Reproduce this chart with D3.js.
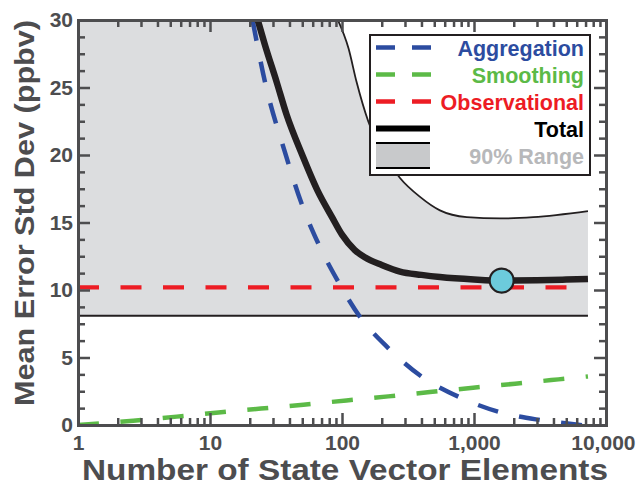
<!DOCTYPE html>
<html>
<head>
<meta charset="utf-8">
<script src="https://cdn.jsdelivr.net/npm/d3@7.9.0/dist/d3.min.js"></script>
<style>
  body { margin: 0; background: #fff; }
  text { font-family: "Liberation Sans", Arial, Helvetica, sans-serif; font-weight: bold; }
</style>
</head>
<body>
<div id="chart"></div>
<script>
// data (x = number of state vector elements, y = ppbv)
const totalN = [23, 26, 32, 38, 50, 65, 84, 100, 125, 150, 200, 275, 400, 552, 1000, 1620, 3000, 5000, 7300];
const totalV = [30, 28.2, 25.4, 23.0, 20.0, 17.4, 15.4, 14.1, 12.96, 12.4, 11.85, 11.36, 11.12, 10.96, 10.78, 10.7, 10.72, 10.77, 10.82];

const aggN = [21, 26.1, 37, 49.4, 66, 93.8, 137, 224, 402, 761, 1520, 3162, 6354, 7000];
const aggV = [30, 25.4, 20.2, 16.4, 13.46, 10.6, 8.0, 5.7, 3.58, 2.1, 0.99, 0.37, 0.0, -0.05];

const smoothN = [1, 2.62, 5.6, 11.6, 51, 108, 224, 464, 984, 2048, 4362, 7300];
const smoothV = [0, 0.32, 0.62, 0.93, 1.5, 1.82, 2.12, 2.44, 2.76, 3.06, 3.38, 3.6];

const obsN = [1, 7300];
const obsV = [10.2, 10.2];

const upperN = [93, 112, 129, 158, 200, 275, 390, 552, 881, 1580, 2814, 7300];
const upperV = [30, 27.9, 25.4, 22.5, 20.3, 18.3, 16.9, 15.9, 15.4, 15.3, 15.4, 15.85];
const lowerN = [1, 7300];
const lowerV = [8.1, 8.1];

const optimum = { n: 1620, v: 10.7 };

const xTicks = [1, 10, 100, 1000, 10000];
const yTicks = [0, 5, 10, 15, 20, 25, 30];

const legendLabels = ['Aggregation', 'Smoothing', 'Observational', 'Total', '90% Range'];

const zip = (ns, vs) => ns.map((n, i) => ({ n, v: vs[i] }));

const width = 638, height = 485;
const plot = { left: 78, right: 606, top: 20, bottom: 425 };
const axisColor = '#4d4d4f';
const colors = {
  agg: '#2c4ca0', smooth: '#5cba47', obs: '#ed1c24', total: '#231f20',
  band: '#dcdddf', patch: '#c8c9cb', rangeText: '#b7b8ba', marker: '#6ccbdc'
};

const svg = d3.select('#chart').append('svg')
  .attr('width', width).attr('height', height);

const x = d3.scaleLog().domain([1, 10000]).range([plot.left, plot.right]);
const y = d3.scaleLinear().domain([0, 30]).range([plot.bottom, plot.top]);

svg.append('clipPath').attr('id', 'clip')
  .append('rect')
  .attr('x', plot.left).attr('y', plot.top)
  .attr('width', plot.right - plot.left).attr('height', plot.bottom - plot.top);

const g = svg.append('g').attr('clip-path', 'url(#clip)');

const line = d3.line().x(d => x(d.n)).y(d => y(d.v)).curve(d3.curveMonotoneX);

// 90% range band (above the top of the chart it is clipped at 30)
const upper = zip(upperN, upperV);
const bandTop = [{ n: lowerN[0], v: y.domain()[1] }, ...upper];
const bandLow = lowerV[0];
const area = d3.area()
  .x(d => x(d.n))
  .y0(y(bandLow))
  .y1(d => y(d.v))
  .curve(d3.curveMonotoneX);
g.append('path').datum(bandTop).attr('d', area).attr('fill', colors.band);

g.append('path').datum(upper).attr('d', line)
  .attr('fill', 'none').attr('stroke', colors.total).attr('stroke-width', 1.8);
g.append('path').datum(zip(lowerN, lowerV)).attr('d', line)
  .attr('fill', 'none').attr('stroke', colors.total).attr('stroke-width', 2);

// component error curves
const dash = '21 21.5';
g.append('path').datum(zip(obsN, obsV)).attr('d', line)
  .attr('fill', 'none').attr('stroke', colors.obs).attr('stroke-width', 4.3)
  .attr('stroke-dasharray', dash);
g.append('path').datum(zip(smoothN, smoothV)).attr('d', line)
  .attr('fill', 'none').attr('stroke', colors.smooth).attr('stroke-width', 4.5)
  .attr('stroke-dasharray', dash);
g.append('path').datum(zip(aggN, aggV)).attr('d', line)
  .attr('fill', 'none').attr('stroke', colors.agg).attr('stroke-width', 4.5)
  .attr('stroke-dasharray', dash);
g.append('path').datum(zip(totalN, totalV)).attr('d', line)
  .attr('fill', 'none').attr('stroke', colors.total).attr('stroke-width', 6.5);

g.append('circle')
  .attr('cx', x(optimum.n)).attr('cy', y(optimum.v)).attr('r', 12)
  .attr('fill', colors.marker).attr('stroke', colors.total).attr('stroke-width', 2.2);

// legend
const leg = svg.append('g');
leg.append('rect')
  .attr('x', 370).attr('y', 35).attr('width', 220).attr('height', 140)
  .attr('fill', '#fff').attr('stroke', colors.total).attr('stroke-width', 2);

const legColors = [colors.agg, colors.smooth, colors.obs, '#000', colors.rangeText];
const rowY = i => 47.5 + i * 27;

legendLabels.forEach((label, i) => {
  const yy = rowY(i);
  if (i < 3) {
    leg.append('line').attr('x1', 376).attr('x2', 431).attr('y1', yy).attr('y2', yy)
      .attr('stroke', legColors[i]).attr('stroke-width', 4.5).attr('stroke-dasharray', '19 17');
  } else if (i === 3) {
    leg.append('line').attr('x1', 376).attr('x2', 430).attr('y1', yy).attr('y2', yy)
      .attr('stroke', '#000').attr('stroke-width', 6);
  } else {
    leg.append('rect').attr('x', 376).attr('y', yy - 12.5).attr('width', 54).attr('height', 25)
      .attr('fill', colors.patch);
    [yy - 12.5, yy + 12.5].forEach(ly => leg.append('line')
      .attr('x1', 376).attr('x2', 430).attr('y1', ly).attr('y2', ly)
      .attr('stroke', '#000').attr('stroke-width', 2));
  }
  leg.append('text')
    .attr('x', 584).attr('y', yy + 8)
    .attr('text-anchor', 'end')
    .attr('font-size', 21.5)
    .attr('fill', legColors[i])
    .text(label);
});

// axes: ticks point inward on all four sides
const xMinor = [];
[1, 10, 100, 1000].forEach(d => d3.range(2, 10).forEach(k => xMinor.push(d * k)));
const yMinor = d3.range(0, 30.01, 1.25).filter(v => v % 5 !== 0);

function styleAxis(sel) {
  sel.select('.domain').attr('stroke', axisColor).attr('stroke-width', 3).attr('stroke-linecap', 'square');
  sel.selectAll('.tick line').attr('stroke', axisColor).attr('stroke-width', 2.5);
  sel.selectAll('.tick text').attr('fill', axisColor).attr('font-size', 21)
    .attr('font-family', '"Liberation Sans", Arial, sans-serif').attr('font-weight', 'bold');
}

const axes = svg.append('g');

axes.append('g').attr('transform', `translate(0,${plot.bottom})`)
  .call(d3.axisBottom(x).tickValues(xMinor).tickSize(-7).tickFormat(''))
  .call(styleAxis);
const xAxisG = axes.append('g').attr('transform', `translate(0,${plot.bottom})`)
  .call(d3.axisBottom(x).tickValues(xTicks).tickSizeInner(-12).tickSizeOuter(0)
    .tickPadding(10).tickFormat(d3.format(',')))
  .call(styleAxis);
xAxisG.selectAll('.tick text').filter(d => d === 10000)
  .attr('text-anchor', 'end').attr('dx', 29);

axes.append('g').attr('transform', `translate(0,${plot.top})`)
  .call(d3.axisTop(x).tickValues(xMinor).tickSize(-7).tickFormat(''))
  .call(styleAxis);
axes.append('g').attr('transform', `translate(0,${plot.top})`)
  .call(d3.axisTop(x).tickValues(xTicks).tickSize(-12).tickFormat(''))
  .call(styleAxis);

axes.append('g').attr('transform', `translate(${plot.left},0)`)
  .call(d3.axisLeft(y).tickValues(yMinor).tickSize(-7).tickFormat(''))
  .call(styleAxis);
axes.append('g').attr('transform', `translate(${plot.left},0)`)
  .call(d3.axisLeft(y).tickValues(yTicks).tickSizeInner(-12).tickSizeOuter(0).tickPadding(5))
  .call(styleAxis);

axes.append('g').attr('transform', `translate(${plot.right},0)`)
  .call(d3.axisRight(y).tickValues(yMinor).tickSize(-7).tickFormat(''))
  .call(styleAxis);
axes.append('g').attr('transform', `translate(${plot.right},0)`)
  .call(d3.axisRight(y).tickValues(yTicks).tickSize(-12).tickFormat(''))
  .call(styleAxis);

// axis titles
svg.append('text')
  .attr('x', 345).attr('y', 480)
  .attr('text-anchor', 'middle')
  .attr('font-size', 29)
  .attr('fill', axisColor)
  .attr('textLength', 526).attr('lengthAdjust', 'spacingAndGlyphs')
  .text('Number of State Vector Elements');

svg.append('text')
  .attr('transform', 'translate(34,213) rotate(-90)')
  .attr('text-anchor', 'middle')
  .attr('font-size', 28)
  .attr('fill', axisColor)
  .attr('textLength', 386).attr('lengthAdjust', 'spacingAndGlyphs')
  .text('Mean Error Std Dev (ppbv)');
</script>
</body>
</html>
